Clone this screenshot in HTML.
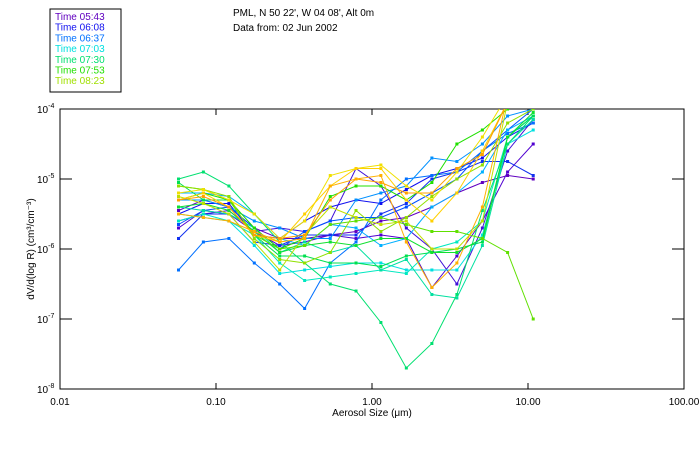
<!DOCTYPE html>
<html><head><meta charset="utf-8"><style>
body{margin:0;background:#fff;}
svg{font-family:"Liberation Sans","DejaVu Sans",sans-serif;}
</style></head><body>
<svg width="700" height="450" viewBox="0 0 700 450">
<defs><clipPath id="pc"><rect x="60" y="109" width="624" height="280"/></clipPath></defs>
<g id="legend">
<rect x="50" y="9" width="71" height="83" fill="#fff" stroke="#000" stroke-width="1"/>
</g>
<text x="233" y="16" font-size="10">PML, N 50 22', W 04 08', Alt 0m</text>
<text x="233" y="31" font-size="10">Data from: 02 Jun 2002</text>
<g id="axes"></g>
<g id="series" clip-path="url(#pc)"></g>
<text x="372" y="416" font-size="10" text-anchor="middle">Aerosol Size (μm)</text>
<text transform="translate(34,249) rotate(-90)" font-size="10" text-anchor="middle">dV/d(log R) (cm³/cm⁻³)</text>
</svg>
<script>
const legendLabels=["Time 05:43","Time 06:08","Time 06:37","Time 07:03","Time 07:30","Time 07:53","Time 08:23"];
const legendColors=["#6000c0","#1010f0","#0070ff","#00e0e0","#00e070","#20e000","#a0e000"];
const sizes=[0.0575,0.083,0.121,0.176,0.256,0.37,0.54,0.79,1.14,1.66,2.42,3.5,5.1,7.4,10.8];
const xTicks=[0.01,0.1,1,10,100];
const xTickLabels=["0.01","0.10","1.00","10.00","100.00"];
const yTicks=[-4,-5,-6,-7,-8];
const seriesColors=["#6000c0","#5000d0","#4010d8","#1010f0","#1030f0","#0050ff","#0070ff","#0090ff","#00b0ff","#00e0e0","#00e8c0","#00e0a0","#00e070","#00e050","#10e030","#20e000","#60e000","#90e000","#c0e000","#f0e000","#ffd000","#ffa000","#ffb000"];
const logValues=[
[-5.45,-5.3,-5.4,-5.7,-5.85,-5.85,-5.8,-5.75,-5.6,-5.55,-5.4,-5.2,-5.05,-4.95,-5.0],
[-5.7,-5.45,-5.5,-5.75,-5.95,-5.9,-5.8,-5.85,-5.8,-5.85,-6.55,-6.1,-5.6,-4.9,-4.5],
[-5.6,-5.5,-5.45,-5.75,-5.7,-5.75,-5.6,-4.85,-5.1,-5.7,-6.0,-6.5,-5.7,-4.6,-4.15],
[-5.5,-5.35,-5.35,-5.8,-5.85,-5.6,-5.4,-5.3,-5.35,-5.15,-4.95,-4.85,-4.7,-4.4,-4.2],
[-5.85,-5.5,-5.5,-5.9,-5.95,-5.8,-5.8,-5.8,-5.5,-5.35,-5.0,-4.9,-4.75,-4.75,-4.95],
[-5.65,-5.45,-5.4,-5.7,-6.0,-5.75,-5.6,-5.55,-5.55,-5.4,-5.2,-5.0,-4.6,-4.3,-4.0],
[-6.3,-5.9,-5.85,-6.2,-6.5,-6.85,-6.2,-5.9,-5.3,-5.0,-4.95,-4.9,-4.6,-4.35,-4.2],
[-5.3,-5.3,-5.4,-5.6,-5.7,-5.85,-5.85,-5.3,-5.2,-5.1,-4.7,-4.75,-4.5,-4.1,-4.0],
[-5.2,-5.2,-5.25,-5.5,-5.85,-5.95,-5.65,-5.7,-5.95,-5.85,-5.4,-5.2,-4.9,-4.3,-4.1],
[-5.5,-5.55,-5.6,-5.95,-6.35,-6.3,-6.25,-6.2,-6.2,-6.3,-6.3,-6.3,-5.8,-4.5,-4.3],
[-5.6,-5.5,-5.6,-5.8,-6.2,-6.45,-6.4,-6.35,-6.3,-6.35,-6.0,-5.9,-5.6,-4.4,-4.1],
[-5.4,-5.45,-5.5,-5.7,-6.05,-5.9,-6.05,-5.95,-6.3,-6.15,-6.65,-6.7,-5.95,-4.5,-4.15],
[-5.0,-4.9,-5.1,-5.5,-5.9,-6.2,-6.5,-6.6,-7.05,-7.7,-7.35,-6.65,-5.45,-4.5,-4.1],
[-5.05,-5.3,-5.3,-5.8,-6.1,-6.1,-6.2,-6.2,-6.25,-6.1,-6.05,-6.0,-5.9,-4.4,-4.1],
[-5.4,-5.35,-5.45,-5.75,-6.05,-5.95,-5.9,-5.95,-5.85,-5.85,-6.05,-6.05,-5.85,-4.4,-4.05],
[-5.3,-5.2,-5.3,-5.7,-6.0,-5.85,-5.25,-5.1,-5.1,-5.3,-5.05,-4.5,-4.3,-4.0,-3.9],
[-5.1,-5.15,-5.3,-5.8,-6.0,-5.95,-5.65,-5.6,-5.55,-5.65,-5.75,-5.75,-5.85,-6.05,-7.0],
[-5.1,-5.15,-5.25,-5.85,-6.15,-6.2,-6.05,-5.45,-5.75,-5.55,-5.25,-5.0,-4.8,-4.2,-4.0],
[-5.25,-5.35,-5.5,-5.9,-6.3,-5.8,-5.4,-5.55,-5.65,-5.6,-6.0,-6.0,-5.6,-3.9,-3.8],
[-5.2,-5.15,-5.3,-5.5,-5.85,-5.6,-4.95,-4.85,-4.8,-5.1,-5.3,-4.9,-4.4,-3.8,-3.7],
[-5.3,-5.2,-5.4,-5.8,-5.9,-5.5,-5.1,-4.85,-4.85,-5.3,-5.6,-5.2,-4.6,-3.9,-3.7],
[-5.3,-5.25,-5.4,-5.8,-5.85,-5.8,-5.3,-5.0,-5.05,-5.2,-5.2,-4.85,-4.65,-3.9,-3.7],
[-5.5,-5.55,-5.6,-5.75,-5.9,-5.85,-5.1,-5.0,-4.95,-5.9,-6.55,-6.2,-5.4,-3.8,-3.7]
];
const NS="http://www.w3.org/2000/svg";
const L=60,R=684,T=109,B=389;
function xs(v){return L+(Math.log10(v)+2)/4*(R-L);}
function ys(lv){return T+(-4-lv)/4*(B-T);}
function mk(tag,attrs,parent){const e=document.createElementNS(NS,tag);for(const k in attrs)e.setAttribute(k,attrs[k]);parent.appendChild(e);return e;}
const leg=document.getElementById('legend');
legendLabels.forEach((t,i)=>{const e=mk('text',{x:55,y:20+i*10.7,'font-size':10,fill:legendColors[i]},leg);


e.textContent=t;});
const ax=document.getElementById('axes');
const fr=mk('rect',{x:L,y:T,width:R-L,height:B-T,fill:'none',stroke:'#000','stroke-width':1},ax);


xTicks.forEach((v,i)=>{const x=xs(v);
mk('line',{x1:x,y1:B,x2:x,y2:B-6,stroke:'#000'},ax);mk('line',{x1:x,y1:T,x2:x,y2:T+6,stroke:'#000'},ax);
const t=mk('text',{x:x,y:405,'font-size':10,'text-anchor':'middle'},ax);


t.textContent=xTickLabels[i];});
yTicks.forEach(v=>{const y=ys(v);
mk('line',{x1:L,y1:y,x2:L+12,y2:y,stroke:'#000'},ax);mk('line',{x1:R,y1:y,x2:R-12,y2:y,stroke:'#000'},ax);
const t=mk('text',{x:37,y:y+4,'font-size':10},ax);


t.innerHTML='10<tspan dy="-5" font-size="7">'+v+'</tspan>';});
const sg=document.getElementById('series');
logValues.forEach((vals,si)=>{const c=seriesColors[si];
const g=mk('g',{},sg);


mk('polyline',{points:vals.map((v,i)=>xs(sizes[i]).toFixed(1)+','+ys(v).toFixed(1)).join(' '),fill:'none',stroke:c,'stroke-width':1},g);
vals.forEach((v,i)=>{const p=mk('rect',{x:xs(sizes[i])-1.5,y:ys(v)-1.5,width:3,height:3,fill:c},g);

});});
</script>
</body></html>
